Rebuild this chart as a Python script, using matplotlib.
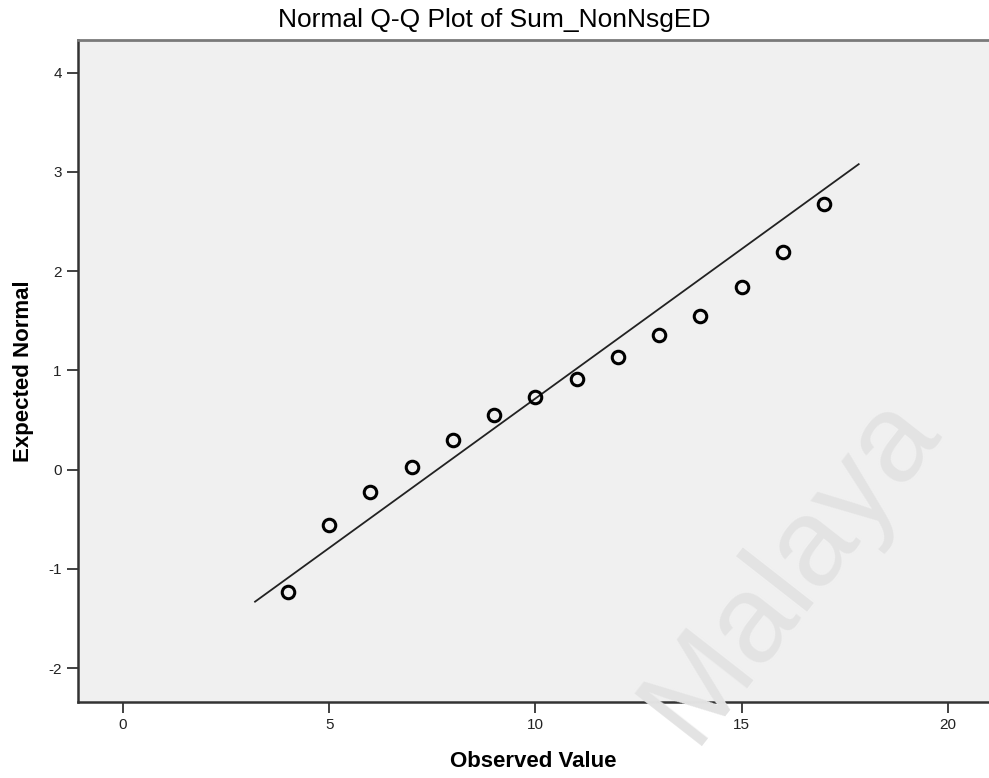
import matplotlib.pyplot as plt

plt.rcParams['font.family'] = ['Liberation Sans', 'DejaVu Sans']
plt.rcParams['axes.unicode_minus'] = False

observed = [4, 5, 6, 7, 8, 9, 10, 11, 12, 13, 14, 15, 16, 17]
expected = [-1.23, -0.56, -0.23, 0.03, 0.30, 0.55, 0.73, 0.91, 1.13, 1.36, 1.55, 1.84, 2.19, 2.68]

# reference line ends (y = (x - mean) / sd)
mean_val = 7.62
sd_val = 3.32
line_x = [3.2, 17.84]
line_y = [(v - mean_val) / sd_val for v in line_x]

x_ticks = [0, 5, 10, 15, 20]
y_ticks = [-2, -1, 0, 1, 2, 3, 4]

fig = plt.figure(figsize=(9.89, 7.78), dpi=100)
ax = fig.add_axes([0.0786, 0.098, 0.9214, 0.8506])
ax.set_facecolor('#f0f0f0')

ax.plot(line_x, line_y, color='#222222', linewidth=1.3)
ax.plot(observed, expected, linestyle='none', marker='o', markersize=9,
        markerfacecolor='none', markeredgecolor='black', markeredgewidth=2.2)

ax.set_xlim(-1.1, 21.0)
ax.set_ylim(-2.34, 4.33)
ax.set_xticks(x_ticks)
ax.set_yticks(y_ticks)
ax.tick_params(axis='both', direction='out', length=8, width=1.3, color='#333333',
               labelsize=11, labelcolor='#222222')

ax.spines['right'].set_visible(False)
ax.spines['top'].set_color('#7a7a7a')
ax.spines['top'].set_linewidth(2)
ax.spines['left'].set_color('#333333')
ax.spines['left'].set_linewidth(1.8)
ax.spines['bottom'].set_color('#333333')
ax.spines['bottom'].set_linewidth(1.8)

ax.set_xlabel('Observed Value', fontsize=16, fontweight='bold', labelpad=14)
ax.set_ylabel('Expected Normal', fontsize=16, fontweight='bold', labelpad=10)
fig.text(0.5, 0.974, 'Normal Q-Q Plot of Sum_NonNsgED', ha='center', va='center',
         fontsize=19, color='black')

# watermark
fig.text(0.80, 0.27, 'Malaya', fontsize=90, color='#e3e3e3',
         rotation=52, ha='center', va='center', zorder=0)

fig.savefig('out.png', dpi=100)
